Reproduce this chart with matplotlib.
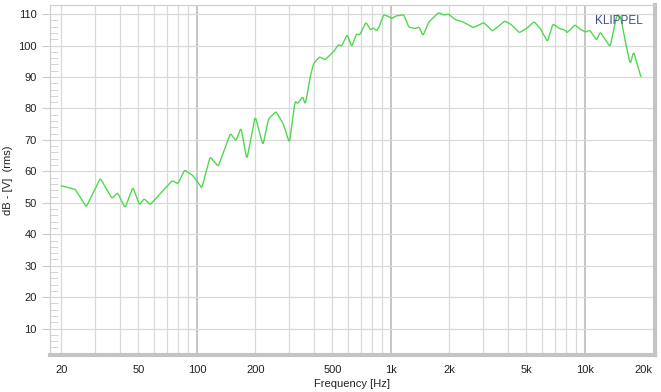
import numpy as np
import matplotlib
matplotlib.use('Agg')
import matplotlib.pyplot as plt
from matplotlib.ticker import FixedLocator, NullFormatter

plt.rcParams['font.family'] = ['Liberation Sans', 'DejaVu Sans']

# frequency response
freq = [20, 23.6, 26.9, 31.8, 36.5, 39, 42.7, 46.8, 50.6, 53.5, 57.5, 74.4, 80,
        86.4, 94.5, 100, 106, 117, 129, 149, 159, 169, 181, 200, 219, 234, 256,
        279, 300, 321, 330, 352, 362, 384, 399, 428, 458, 506, 537, 558, 596,
        628, 666, 690, 744, 788, 810, 846, 870, 918, 960, 1012, 1060, 1166,
        1236, 1330, 1400, 1464, 1568, 1764, 1870, 1980, 2146, 2360, 2660, 2760,
        3016, 3340, 3860, 4150, 4600, 5000, 5480, 5900, 6420, 6840, 7400, 7800,
        8120, 8900, 9500, 10140, 10600, 11500, 12000, 13500, 14640, 15300,
        16000, 17140, 17840, 19460]
level = [55.4, 54.3, 48.7, 57.8, 51.4, 53.2, 48.4, 55.0, 49.3, 51.3, 49.4, 57.0, 56.1,
         60.4, 58.9, 57.0, 54.6, 64.6, 61.6, 72.1, 69.7, 73.9, 63.7, 77.6, 68.2, 76.7, 79.0,
         75.1, 69.0, 82.5, 81.5, 83.8, 81.1, 90.0, 94.2, 96.4, 95.5, 98.0, 100.3, 99.8, 103.6,
         99.6, 103.8, 103.3, 107.4, 104.9, 105.7, 104.7, 105.9, 109.8, 109.4, 108.6, 109.4,
         109.8, 105.9, 105.4, 105.9, 103.1, 107.5, 110.5, 109.7, 110.0, 108.3, 107.5, 105.7,
         106.2, 107.3, 104.6, 107.8, 106.8, 104.1, 105.4, 107.6, 105.4, 101.2, 106.9, 105.4,
         105.1, 104.1, 106.6, 105.1, 104.3, 104.9, 101.7, 104.3, 99.6, 109.9, 109.1, 102.7,
         94.0, 98.1, 90.0]

xticks = [20, 50, 100, 200, 500, 1000, 2000, 5000, 10000, 20000]
xtick_labels = ['20', '50', '100', '200', '500', '1k', '2k', '5k', '10k', '20k']
yticks = list(range(10, 111, 10))

# light smoothing of the read points in log-frequency
lf = np.log10(freq)
fine = np.linspace(lf[0], lf[-1], 1500)
smooth = np.interp(fine, lf, level)
k = np.ones(5) / 5
smooth_pad = np.concatenate([np.full(2, smooth[0]), smooth, np.full(2, smooth[-1])])
smooth = np.convolve(smooth_pad, k, mode='valid')

fig = plt.figure(figsize=(6.61, 3.92), dpi=100)
ax = fig.add_axes([50/661, 1 - 355/392, 605/661, 350/392])

ax.set_xscale('log')
ax.set_xlim(17.5, 23000)
ax.set_ylim(1.6, 112.9)

# grid
minor_x = [f * d for d in (10, 100, 1000) for f in range(2, 10)] + [20, 30, 40, 50, 60, 70, 80, 90]
minor_x = sorted(set(x for x in minor_x if 20 <= x <= 20000))
for x in minor_x:
    ax.axvline(x, color='#d9d9d9', lw=0.9, zorder=0)
for x in (100, 1000, 10000):
    ax.axvline(x, color='#b5b5b5', lw=1.1, zorder=0)
for y in yticks:
    ax.axhline(y, color='#d9d9d9', lw=0.9, zorder=0)

ax.plot(10 ** fine, smooth, color='#4fd94f', lw=1.0, zorder=3)

ax.xaxis.set_major_locator(FixedLocator(xticks))
ax.set_xticklabels(xtick_labels)
ax.xaxis.set_minor_formatter(NullFormatter())
ax.xaxis.set_minor_locator(FixedLocator([]))
ax.tick_params(axis='x', length=0, labelsize=8, pad=7, colors='#222222')

ax.set_yticks(yticks)
ax.set_yticks(list(range(4, 112, 2)), minor=True)
ax.tick_params(axis='y', which='major', length=6, labelsize=8, colors='#222222')
ax.tick_params(axis='y', which='major', color='#cccccc')
ax.tick_params(axis='y', which='minor', direction='in', length=6, color='#cccccc')

for s in ('left', 'top'):
    ax.spines[s].set_color('#d0d0d0')
    ax.spines[s].set_linewidth(0.9)
ax.spines['bottom'].set_color('#c4c4c4')
ax.spines['bottom'].set_linewidth(3)
ax.spines['right'].set_color('#c4c4c4')
ax.spines['right'].set_linewidth(3)

ax.set_xlabel('Frequency [Hz]', fontsize=8, labelpad=3, color='#222222')
ax.set_ylabel('dB - [V]  (rms)', fontsize=8, labelpad=4, color='#222222')

ax.text(0.941, 0.955, 'KLIPPEL', transform=ax.transAxes, ha='center', va='center',
        fontsize=8.5, color='#3d4f86', zorder=4)

fig.savefig('out.png', dpi=100)
